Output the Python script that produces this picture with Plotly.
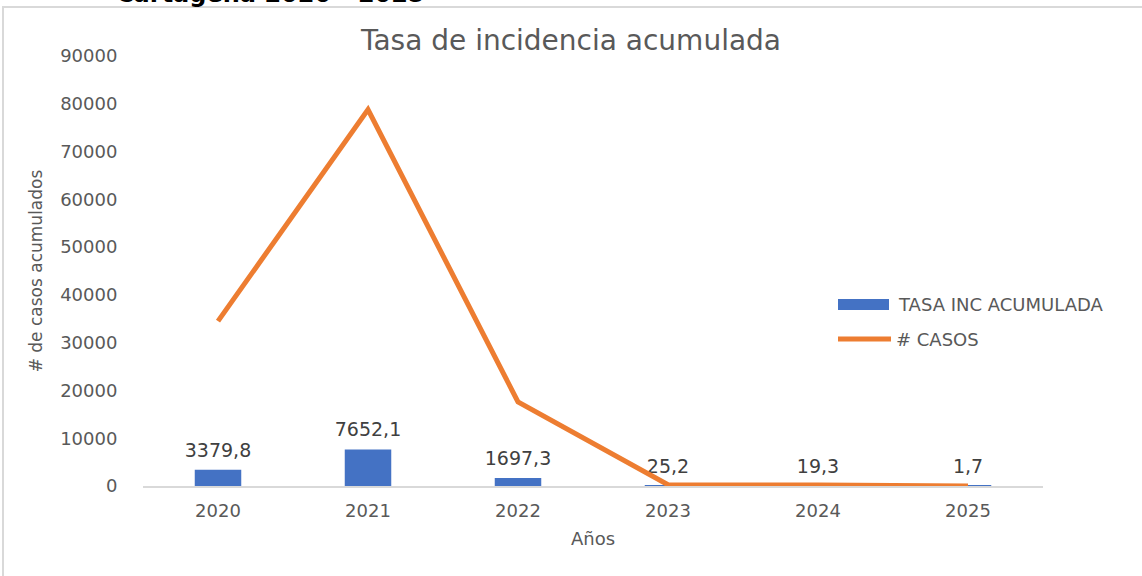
import plotly.graph_objects as go

years = ["2020", "2021", "2022", "2023", "2024", "2025"]
tasa_inc = [3379.8, 7652.1, 1697.3, 25.2, 19.3, 1.7]
casos = [34500, 78800, 17600, 260, 200, 18]
tasa_labels = ["3379,8", "7652,1", "1697,3", "25,2", "19,3", "1,7"]
series_names = ["TASA INC ACUMULADA", "# CASOS"]

FONT = "DejaVu Sans"
GRAY = "#595959"
BLUE = "#4472C4"
ORANGE = "#ED7D31"

fig = go.Figure()
fig.add_trace(go.Bar(
    x=years, y=tasa_inc, name=series_names[0],
    marker=dict(color=BLUE, line=dict(width=0)),
))
# data labels above the bars (invisible markers give the gap)
fig.add_trace(go.Scatter(
    x=years, y=tasa_inc, mode="markers+text", text=tasa_labels,
    textposition="top center", marker=dict(size=12, opacity=0),
    textfont=dict(size=19, color="#404040", family=FONT),
    cliponaxis=False, hoverinfo="skip",
))
fig.add_trace(go.Scatter(
    x=years, y=casos, name=series_names[1], mode="lines",
    line=dict(color=ORANGE, width=5),
))

fig.update_layout(
    width=1142, height=576,
    margin=dict(l=143, r=99, t=56, b=90),
    paper_bgcolor="white", plot_bgcolor="white",
    font=dict(family=FONT, color=GRAY, size=18),
    title=dict(text="Tasa de incidencia acumulada", x=0.5, xanchor="center",
               y=0.93, yanchor="middle", font=dict(size=28, color=GRAY)),
    bargap=0.69,
    showlegend=False,
)
fig.update_xaxes(
    type="category", range=[-0.5, 5.5],
    showline=True, linecolor="#d9d9d9", linewidth=1.5, showgrid=False,
    ticks="outside", ticklen=8, tickcolor="rgba(0,0,0,0)",
    title=dict(text="Años", font=dict(size=18, color=GRAY), standoff=12),
)
fig.update_yaxes(
    range=[0, 90000], dtick=10000, showgrid=False, zeroline=False,
    ticks="outside", ticklen=21, tickcolor="rgba(0,0,0,0)",
    tickformat="d",
    title=dict(text="# de casos acumulados", font=dict(size=17, color=GRAY), standoff=13),
)

# legend drawn by hand so the keys match the original proportions
px_x = lambda p: (p - 143) / 900
px_y = lambda p: 1 - (p - 56) / 430
fig.add_shape(type="rect", xref="paper", yref="paper",
              x0=px_x(838), x1=px_x(889), y0=px_y(310), y1=px_y(299),
              fillcolor=BLUE, line=dict(width=0))
fig.add_shape(type="line", xref="paper", yref="paper",
              x0=px_x(838), x1=px_x(891), y0=px_y(339), y1=px_y(339),
              line=dict(color=ORANGE, width=5))
for name, yy, xx in zip(series_names, [304, 339], [896, 894]):
    fig.add_annotation(text=name, xref="paper", yref="paper", x=px_x(xx), y=px_y(yy),
                       xanchor="left", yanchor="middle", showarrow=False,
                       font=dict(size=18, color=GRAY, family=FONT))

# outer frame of the chart area
fig.add_shape(type="rect", xref="paper", yref="paper",
              x0=px_x(3), x1=1.3, y0=-0.5, y1=px_y(7),
              line=dict(color="#d9d9d9", width=2), layer="below")

# heading partially cut off at top
fig.add_annotation(text="<b>Cartagena 2020 - 2025</b>", xref="paper", yref="paper",
                   x=px_x(270), y=px_y(10), xanchor="center",
                   yanchor="bottom", showarrow=False,
                   font=dict(family="DejaVu Sans", size=24, color="black"))

fig.write_html("out.html", config={"displayModeBar": False},
               post_script="document.body.style.margin='0';")
